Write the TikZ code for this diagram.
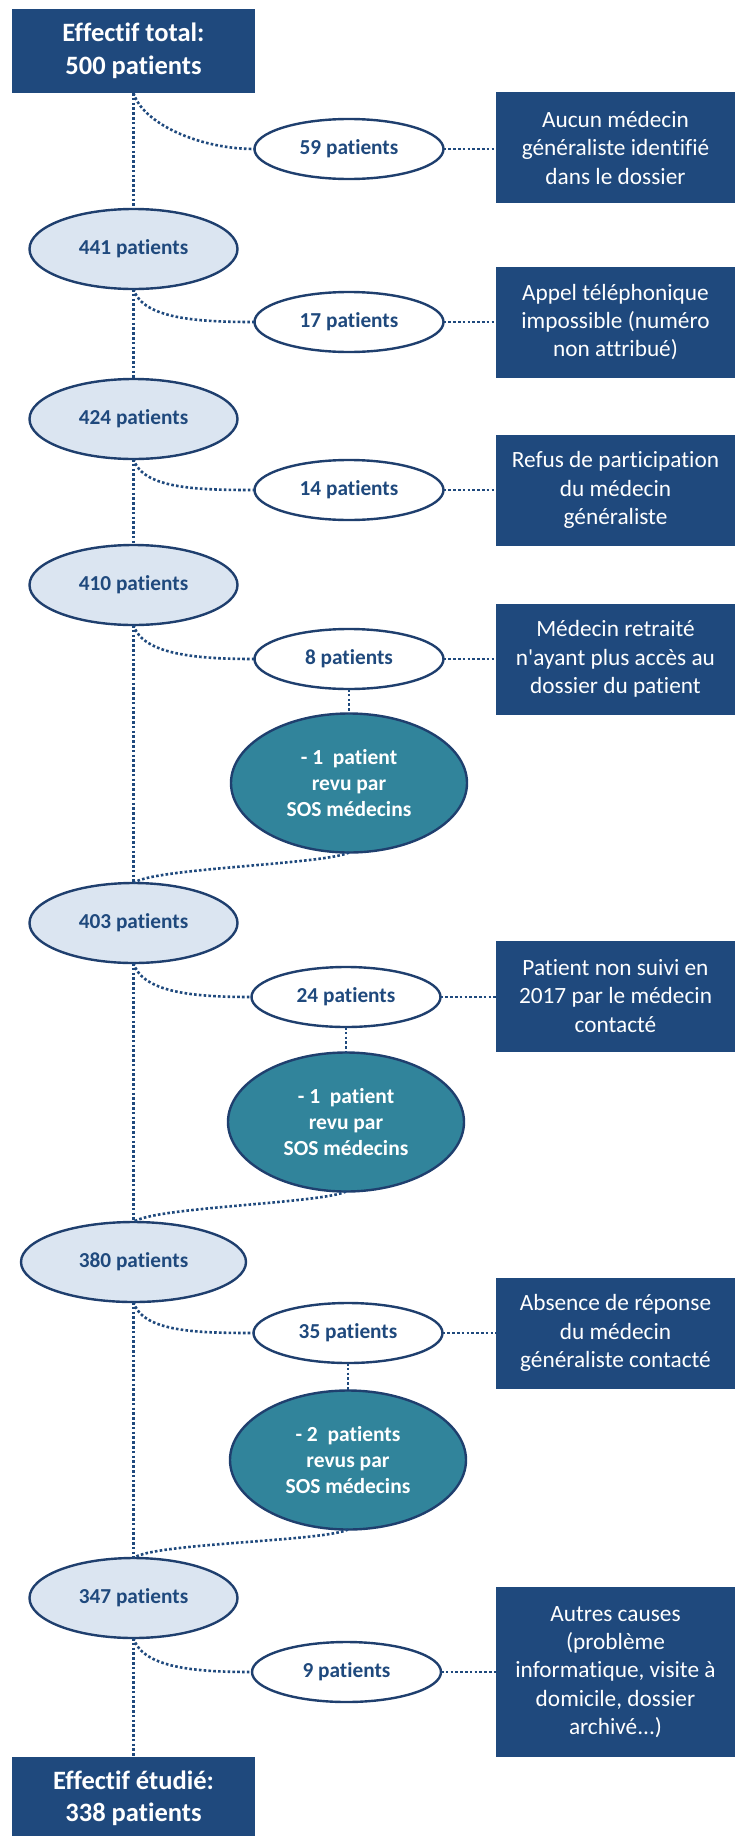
\documentclass[tikz,border=0pt]{standalone}
\usepackage{fontspec}
\setmainfont{Carlito}[Ligatures={TeXOff,NoCommon}]
\usetikzlibrary{shapes.geometric}
\definecolor{navy}{HTML}{1F497D}
\definecolor{lightfill}{HTML}{DBE5F1}
\definecolor{tealfill}{HTML}{31849B}
\definecolor{edgeblue}{HTML}{1F3F6E}
\begin{document}
\begin{tikzpicture}[x=1pt,y=-1pt,
  bigbox/.style={fill=navy, text=white, font=\fontsize{26.5}{32.5}\selectfont\bfseries, align=center,
    minimum width=243pt, minimum height=84pt, inner sep=0pt, outer sep=0pt},
  reasonbox/.style={fill=navy, text=white, font=\fontsize{23.3}{28.3}\selectfont, align=center,
    minimum width=239pt, minimum height=111pt, inner sep=0pt, outer sep=0pt},
  countell/.style={ellipse, draw=edgeblue, line width=2.4pt, fill=lightfill, text=navy,
    font=\fontsize{21.3}{26}\selectfont\bfseries, minimum width=208pt, minimum height=80pt, inner sep=0pt, outer sep=0pt},
  lossell/.style={ellipse, draw=edgeblue, line width=2.4pt, fill=white, text=navy,
    font=\fontsize{21.3}{26}\selectfont\bfseries, minimum width=189pt, minimum height=60pt, inner sep=0pt, outer sep=0pt},
  sosell/.style={ellipse, draw=edgeblue, line width=2.4pt, fill=tealfill, text=white, align=center,
    font=\fontsize{21.5}{26}\selectfont\bfseries, minimum width=236pt, minimum height=139pt, inner sep=0pt, outer sep=0pt},
  conn/.style={draw=navy, line width=2.6pt, dash pattern=on 2.6pt off 2.2pt}
]
\useasboundingbox (0,0) rectangle (735,1836);
\clip (0,0) rectangle (735,1836);

% main boxes
\node[bigbox] (top) at (133.5,51) {Effectif total:\\500 patients};
\node[bigbox] (bot) at (133.5,1798.5) {Effectif étudié:\\338 patients};

% spine ellipses
\node[countell] (n441) at (133.5,249) {441 patients};
\node[countell] (n424) at (133.5,419) {424 patients};
\node[countell] (n410) at (133.5,585) {410 patients};
\node[countell] (n403) at (133.5,923) {403 patients};
\node[countell, minimum width=225pt] (n380) at (133.5,1262) {380 patients};
\node[countell] (n347) at (133.5,1598) {347 patients};

% loss ellipses
\node[lossell] (e59) at (349,149) {59 patients};
\node[lossell] (e17) at (349,322) {17 patients};
\node[lossell] (e14) at (349,490) {14 patients};
\node[lossell] (e8) at (349,659) {8 patients};
\node[lossell] (e24) at (346,997) {24 patients};
\node[lossell] (e35) at (348,1333) {35 patients};
\node[lossell] (e9) at (346.5,1672) {9 patients};

% SOS ellipses
\node[sosell] (s1) at (349,783) {- 1\ \ patient\\revu par\\SOS médecins};
\node[sosell] (s2) at (346,1122) {- 1\ \ patient\\revu par\\SOS médecins};
\node[sosell] (s3) at (348,1460) {- 2\ \ patients\\revus par\\SOS médecins};

% reason boxes
\node[reasonbox] (r1) at (615.5,147.8) {Aucun médecin\\généraliste identifié\\dans le dossier};
\node[reasonbox] (r2) at (615.5,322) {Appel téléphonique\\impossible (numéro\\non attribué)};
\node[reasonbox] (r3) at (615.5,490) {Refus de participation\\du médecin\\généraliste};
\node[reasonbox] (r4) at (615.5,659) {Médecin retraité\\n'ayant plus accès au\\dossier du patient};
\node[reasonbox] (r5) at (615.5,996) {Patient non suivi en\\2017 par le médecin\\contacté};
\node[reasonbox] (r6) at (615.5,1333) {Absence de réponse\\du médecin\\généraliste contacté};
\node[reasonbox, minimum height=170pt] (r7) at (615.5,1672) {Autres causes\\(problème\\informatique, visite à\\domicile, dossier\\archivé...)};

% spine connectors
\draw[conn] (top.south) -- (n441.north);
\draw[conn] (n441.south) -- (n424.north);
\draw[conn] (n424.south) -- (n410.north);
\draw[conn] (n410.south) -- (n403.north);
\draw[conn] (n403.south) -- (n380.north);
\draw[conn] (n380.south) -- (n347.north);
\draw[conn] (n347.south) -- (bot.north);

% branches to loss ellipses
\draw[conn] (top.south) .. controls +(9,30) and +(-56,0) .. (e59.west);
\draw[conn] (n441.south) .. controls +(9,30) and +(-56,0) .. (e17.west);
\draw[conn] (n424.south) .. controls +(9,30) and +(-56,0) .. (e14.west);
\draw[conn] (n410.south) .. controls +(9,30) and +(-56,0) .. (e8.west);
\draw[conn] (n403.south) .. controls +(9,30) and +(-56,0) .. (e24.west);
\draw[conn] (n380.south) .. controls +(9,30) and +(-56,0) .. (e35.west);
\draw[conn] (n347.south) .. controls +(9,30) and +(-56,0) .. (e9.west);

% loss ellipses to reason boxes
\draw[conn] (e59.east) -- (r1.west |- e59.east);
\draw[conn] (e17.east) -- (r2.west |- e17.east);
\draw[conn] (e14.east) -- (r3.west |- e14.east);
\draw[conn] (e8.east) -- (r4.west |- e8.east);
\draw[conn] (e24.east) -- (r5.west |- e24.east);
\draw[conn] (e35.east) -- (r6.west |- e35.east);
\draw[conn] (e9.east) -- (r7.west |- e9.east);

% loss ellipses to SOS ellipses
\draw[conn] (e8.south) -- (s1.north);
\draw[conn] (e24.south) -- (s2.north);
\draw[conn] (e35.south) -- (s3.north);

% SOS back to spine
\draw[conn] (s1.south) .. controls +(-25,12) and +(20,-15) .. (n403.north);
\draw[conn] (s2.south) .. controls +(-25,12) and +(20,-15) .. (n380.north);
\draw[conn] (s3.south) .. controls +(-25,12) and +(20,-15) .. (n347.north);
\end{tikzpicture}
\end{document}
